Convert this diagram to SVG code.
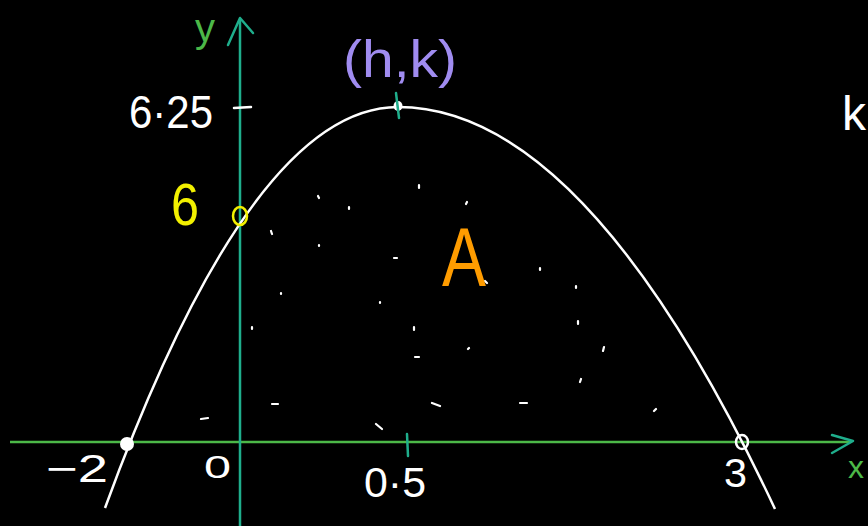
<svg xmlns="http://www.w3.org/2000/svg" width="868" height="526" viewBox="0 0 868 526">
<style>
.t{font-family:"Liberation Sans","DejaVu Sans",sans-serif;}
.w{fill:#ffffff;}
.dot{stroke:#ffffff;stroke-width:2.2;stroke-linecap:round;fill:none;}
</style>
<rect width="868" height="526" fill="#000000"/>
<g id="axes">
  <line x1="10" y1="442" x2="850" y2="442" stroke="#4cb848" stroke-width="2.5"/>
  <polyline points="832,435 853,441 832,453" fill="none" stroke="#1fae8c" stroke-width="2.5" stroke-linecap="round" stroke-linejoin="round"/>
  <line x1="240" y1="20" x2="240" y2="526" stroke="#1fae8c" stroke-width="2.5"/>
  <polyline points="228,45 240,18 253,33" fill="none" stroke="#1fae8c" stroke-width="2.5" stroke-linecap="round" stroke-linejoin="round"/>
  <line x1="407" y1="434" x2="408" y2="456" stroke="#1fae8c" stroke-width="2.5" stroke-linecap="round"/>
  <line x1="234" y1="108" x2="251" y2="107" stroke="#ffffff" stroke-width="2.5" stroke-linecap="round"/>
</g>
<g id="curve">
  <path d="M105,508 Q251.5,107 398,107 Q586.5,107 775,509" fill="none" stroke="#ffffff" stroke-width="2.5"/>
</g>
<g id="points">
  <circle cx="127" cy="444" r="7" fill="#ffffff"/>
  <ellipse cx="742" cy="442" rx="6" ry="7" fill="none" stroke="#ffffff" stroke-width="2.5"/>
  <ellipse cx="398" cy="106" rx="4.5" ry="5" fill="#ffffff"/>
  <line x1="396" y1="93" x2="399" y2="118" stroke="#1fae8c" stroke-width="2.5" stroke-linecap="round"/>
  <ellipse cx="240" cy="216" rx="7" ry="9" fill="none" stroke="#f2f000" stroke-width="2.5"/>
</g>
<g id="shading">
  <path class="dot" d="M318,196 l1,2 M349,207 l0,2 M419,185 l0,3 M466,204 l1,-2 M271,231 l1,3 M319,245 l0,1 M394,258 l3,0 M281,293 l0,1 M380,302 l0,1 M485,281 l2,2 M540,268 l0,2 M576,286 l0,2 M252,327 l0,2 M414,327 l0,3 M578,321 l0,3 M603,351 l1,-4 M468,349 l1,-1 M415,357 l4,0 M580,382 l1,-3 M201,419 l7,-1 M272,404 l6,0 M376,424 l6,5 M432,403 l8,3 M520,403 l7,0 M654,411 l2,-2"/>
</g>
<g id="labels">
  <text class="t" x="195" y="42" font-size="40" fill="#4cb848">y</text>
  <text class="t" x="343" y="77" font-size="52" fill="#a08cf0" textLength="114" lengthAdjust="spacingAndGlyphs">(h,k)</text>
  <text class="t w" x="129" y="128" font-size="46" textLength="84" lengthAdjust="spacingAndGlyphs">6·25</text>
  <text class="t" x="171" y="225" font-size="60" fill="#f2f000" textLength="28" lengthAdjust="spacingAndGlyphs">6</text>
  <text class="t" x="442" y="286" font-size="84" fill="#ff9c00" textLength="44" lengthAdjust="spacingAndGlyphs">A</text>
  <text class="t w" x="46" y="482" font-size="38" textLength="62" lengthAdjust="spacingAndGlyphs">−2</text>
  <text class="t w" x="204" y="478" font-size="32" textLength="27" lengthAdjust="spacingAndGlyphs">0</text>
  <text class="t w" x="364" y="497" font-size="42" textLength="62" lengthAdjust="spacingAndGlyphs">0·5</text>
  <text class="t w" x="724" y="487" font-size="40" textLength="23" lengthAdjust="spacingAndGlyphs">3</text>
  <text class="t" x="848" y="478" font-size="32" fill="#4cb848">x</text>
  <text class="t w" x="842" y="130" font-size="48">k</text>
</g>
</svg>
